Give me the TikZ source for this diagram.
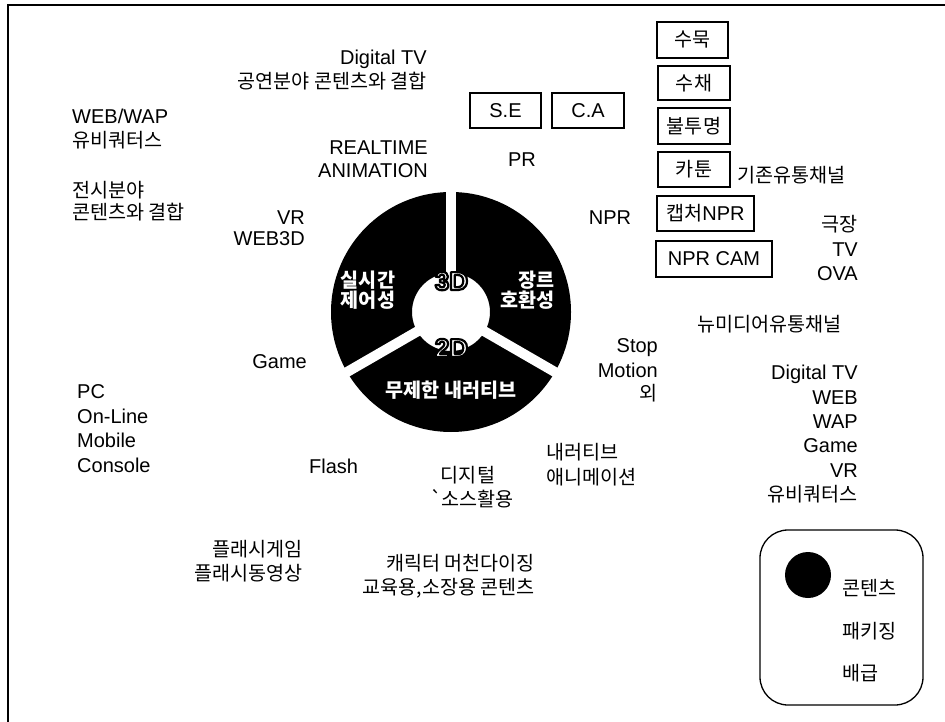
\documentclass[tikz,border=0pt]{standalone}
\usepackage{fontspec}
\setmainfont{Liberation Sans}
\newfontfamily\kr{Noto Sans CJK KR}[Scale=0.98]
\newcommand\outlinedtext[1]{%
  {\color{white}\special{pdf:code q 2 Tr 2.2 w 0 G 1 J 1 j}#1\special{pdf:code Q}}}
\tikzset{
  txt/.style={inner sep=0pt, font=\fontsize{20}{24}\selectfont},
  ktxt/.style={inner sep=0pt, font=\fontsize{20}{24}\selectfont\kr},
  boxnode/.style={draw, line width=1.3pt, inner sep=0pt, font=\fontsize{20}{24}\selectfont},
  wlbl/.style={inner sep=0pt, text=white, font=\fontsize{20}{24}\selectfont\kr\bfseries},
  big/.style={inner sep=0pt, font=\fontsize{26}{28}\selectfont\bfseries},
}
\begin{document}
\begin{tikzpicture}[x=1pt,y=-1pt]
\useasboundingbox (0,0) rectangle (945,722);
% frame
\draw[line width=1.3pt] (945,5) -- (8,5) -- (8,722);

% donut
\coordinate (c) at (451,312);
\fill[black, even odd rule] (c) circle (120) (c) circle (39);
\draw[white, line width=10pt] (c) -- ++(-90:126);
\draw[white, line width=10pt] (c) -- ++(150:126);
\draw[white, line width=10pt] (c) -- ++(30:126);
\node[big, anchor=base] (d3) at (451.5,290) {\outlinedtext{3D}};
\node[big, anchor=base] (d2) at (451.5,357) {\outlinedtext{2D}};
\node[wlbl, anchor=base] (s1a) at (368,287) {실시간};
\node[wlbl, anchor=base] (s1b) at (368,307) {제어성};
\node[wlbl, anchor=base east] (s2a) at (555,287) {장르};
\node[wlbl, anchor=base east] (s2b) at (555,307) {호환성};
\node[wlbl, anchor=base] (s3) at (451,397) {무제한 내러티브};

% top-left texts
\node[txt, anchor=base east] (a1) at (427,65) {Digital TV};
\node[ktxt, anchor=base east] (a2) at (427,89) {공연분야 콘텐츠와 결합};
\node[txt, anchor=base west] (b1) at (72,124) {WEB/WAP};
\node[ktxt, anchor=base west] (b2) at (72,148) {유비쿼터스};
\node[txt, anchor=base east] (r1) at (428,155) {REALTIME};
\node[txt, anchor=base east] (r2) at (428,178) {ANIMATION};
\node[ktxt, anchor=base west] (e1) at (72,198) {전시분야};
\node[ktxt, anchor=base west] (e2) at (72,220) {콘텐츠와 결합};
\node[txt, anchor=base east] (v1) at (305,225) {VR};
\node[txt, anchor=base east] (v2) at (305,245) {WEB3D};

% boxes
\node[boxnode, minimum width=71pt, minimum height=36pt, font=\fontsize{20}{24}\selectfont\kr] (bx1) at (692.5,40) {수묵};
\node[boxnode, minimum width=72pt, minimum height=34pt, font=\fontsize{20}{24}\selectfont\kr] (bx2) at (694,83) {수채};
\node[boxnode, minimum width=72pt, minimum height=36pt, font=\fontsize{20}{24}\selectfont\kr] (bx3) at (694,126) {불투명};
\node[boxnode, minimum width=72pt, minimum height=35pt, font=\fontsize{20}{24}\selectfont\kr] (bx4) at (694,169.5) {카툰};
\node[boxnode, minimum width=97pt, minimum height=35pt] (bx5) at (705.5,213.5) {{\kr 캡처}NPR};
\node[boxnode, minimum width=116pt, minimum height=36pt] (bx6) at (714,259) {NPR CAM};
\node[boxnode, minimum width=71pt, minimum height=35pt] (se) at (505.5,110.5) {S.E};
\node[boxnode, minimum width=72pt, minimum height=35pt] (ca) at (588,110.5) {C.A};

\node[txt, anchor=base] (pr) at (522,167) {PR};
\node[txt, anchor=base] (npr) at (610,225) {NPR};
\node[ktxt, anchor=base west] (g1) at (737,183) {기존유통채널};
\node[ktxt, anchor=base east] (k1) at (858,232) {극장};
\node[txt, anchor=base east] (k2) at (858,256) {TV};
\node[txt, anchor=base east] (k3) at (858,280) {OVA};

% right middle
\node[ktxt, anchor=base west] (n1) at (697,331) {뉴미디어유통채널};
\node[txt, anchor=base east] (m1) at (658,352) {Stop};
\node[txt, anchor=base east] (m2) at (658,377) {Motion};
\node[ktxt, anchor=base east] (m3) at (658,400) {외};
\node[txt, anchor=base east] (w1) at (858,379) {Digital TV};
\node[txt, anchor=base east] (w2) at (858,404) {WEB};
\node[txt, anchor=base east] (w3) at (858,428) {WAP};
\node[txt, anchor=base east] (w4) at (858,452) {Game};
\node[txt, anchor=base east] (w5) at (858,477) {VR};
\node[ktxt, anchor=base east] (w6) at (858,501) {유비쿼터스};
\node[ktxt, anchor=base west] (na1) at (546,459) {내러티브};
\node[ktxt, anchor=base west] (na2) at (546,484) {애니메이션};

% left lower
\node[txt, anchor=base east] (gm) at (307,368) {Game};
\node[txt, anchor=base west] (p1) at (77,398) {PC};
\node[txt, anchor=base west] (p2) at (77,423) {On-Line};
\node[txt, anchor=base west] (p3) at (77,447) {Mobile};
\node[txt, anchor=base west] (p4) at (77,472) {Console};
\node[txt, anchor=base west] (fl) at (309,473) {Flash};
\node[ktxt, anchor=base] (dg1) at (468,482) {디지털};
\node[ktxt, anchor=base] (dg2) at (472,506) {`소스활용};
\node[ktxt, anchor=base east] (f1) at (303,556) {플래시게임};
\node[ktxt, anchor=base east] (f2) at (303,580) {플래시동영상};
\node[ktxt, anchor=base east] (c1) at (535,570) {캐릭터 머천다이징};
\node[ktxt, anchor=base east] (c2) at (535,594) {교육용,소장용 콘텐츠};

% legend
\draw[line width=1.3pt, rounded corners=28pt] (760,530) rectangle (923,705);
\fill[black] (808,575) circle (23);
\node[ktxt, anchor=base west] (l1) at (842,595) {콘텐츠};
\node[ktxt, anchor=base west] (l2) at (842,638) {패키징};
\node[ktxt, anchor=base west] (l3) at (842,680) {배급};
\end{tikzpicture}
\end{document}
